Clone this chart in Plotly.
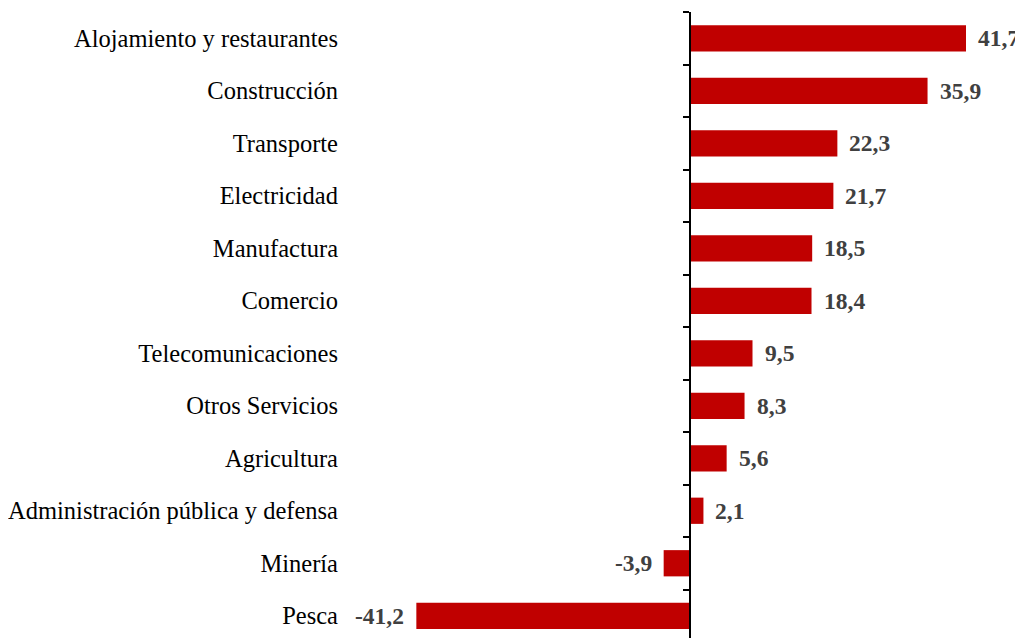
import plotly.graph_objects as go

# bottom to top
sectores = [
    "Pesca",
    "Minería",
    "Administración pública y defensa",
    "Agricultura",
    "Otros Servicios",
    "Telecomunicaciones",
    "Comercio",
    "Manufactura",
    "Electricidad",
    "Transporte",
    "Construcción",
    "Alojamiento y restaurantes",
]
variacion = [-41.2, -3.9, 2.1, 5.6, 8.3, 9.5, 18.4, 18.5, 21.7, 22.3, 35.9, 41.7]

X_MIN, X_MAX = -51.96, 47.28
Y_RANGE = [-0.5, 11.5]
SERIF = "Liberation Serif, Times New Roman, serif"

fig = go.Figure()
fig.add_trace(
    go.Bar(
        x=variacion,
        y=sectores,
        orientation="h",
        marker=dict(color="#C00000", line=dict(width=0)),
        width=0.5,
        hoverinfo="x+y",
        showlegend=False,
    )
)
# invisible trace to carry the zero axis with boundary ticks
fig.add_trace(
    go.Bar(
        x=[0] * len(sectores),
        y=sectores,
        orientation="h",
        yaxis="y2",
        marker=dict(color="rgba(0,0,0,0)"),
        hoverinfo="skip",
        showlegend=False,
    )
)

for s, v in zip(sectores, variacion):
    fig.add_annotation(
        x=v,
        y=s,
        text="<b>" + f"{v:.1f}".replace(".", ",") + "</b>",
        showarrow=False,
        xanchor="left" if v >= 0 else "right",
        xshift=10 if v >= 0 else -10,
        font=dict(family=SERIF, size=23.5, color="#404040"),
    )

fig.update_layout(
    width=1023,
    height=638,
    plot_bgcolor="white",
    paper_bgcolor="white",
    margin=dict(l=337, r=28, t=4, b=4),
    bargap=0.5,
    font=dict(family=SERIF, size=24.5, color="black"),
    xaxis=dict(
        range=[X_MIN, X_MAX],
        showticklabels=False,
        showgrid=False,
        zeroline=False,
        showline=False,
        ticks="",
        automargin=False,
    ),
    yaxis=dict(
        type="category",
        categoryorder="array",
        categoryarray=sectores,
        range=Y_RANGE,
        showgrid=False,
        showline=False,
        ticks="",
        ticklabelstandoff=6,
        automargin=False,
        tickfont=dict(family=SERIF, size=24.5, color="black"),
    ),
    yaxis2=dict(
        type="category",
        categoryorder="array",
        categoryarray=sectores,
        range=Y_RANGE,
        overlaying="y",
        anchor="free",
        side="left",
        position=(0 - X_MIN) / (X_MAX - X_MIN),
        showticklabels=False,
        showgrid=False,
        showline=True,
        linecolor="black",
        linewidth=1.5,
        ticks="outside",
        tickson="boundaries",
        ticklen=6,
        tickwidth=1.5,
        tickcolor="black",
        automargin=False,
    ),
)

fig.write_html("out.html")
